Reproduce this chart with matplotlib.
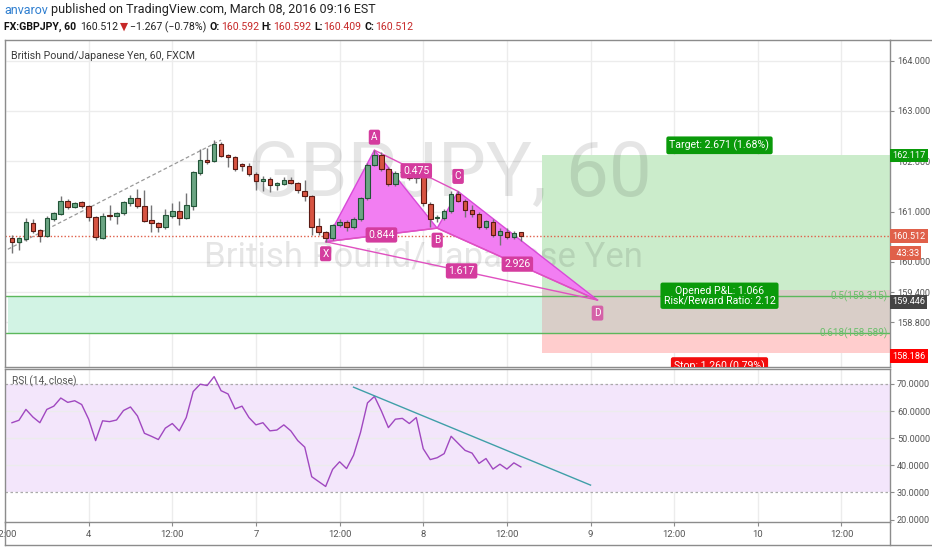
import matplotlib
matplotlib.use("Agg")
import matplotlib.pyplot as plt
import matplotlib.transforms as mtransforms
from matplotlib.patches import Polygon, Rectangle
from matplotlib.lines import Line2D
import numpy as np

plt.rcParams['font.family'] = ['Roboto', 'DejaVu Sans']

W, H = 932, 550

# hourly GBPJPY candles (bar index 1..74)
opens = [160.48, 160.39, 160.46, 160.78, 160.63, 160.52, 160.86, 160.96, 161.21, 161.10,
         161.18, 161.11, 160.89, 160.48, 160.93, 160.91, 160.97, 161.17, 161.26, 161.12,
         160.83, 160.77, 160.70, 160.92, 161.01, 160.88, 161.12, 161.77, 162.03, 162.01,
         162.34, 162.12, 162.08, 161.94, 161.91, 161.75, 161.61, 161.65, 161.52, 161.54,
         161.62, 161.56, 161.41, 161.30, 160.71, 160.59, 160.47, 160.73, 160.80, 160.69,
         160.85, 161.26, 161.93, 162.13, 161.84, 161.54, 161.78, 161.78, 161.67, 161.83,
         161.15, 160.87, 160.88, 161.01, 161.35, 161.21, 161.04, 160.96, 160.70, 160.80,
         160.53, 160.60, 160.49, 160.592]
highs = [160.54, 160.49, 160.87, 160.86, 160.66, 160.92, 161.00, 161.30, 161.24, 161.19,
         161.21, 161.13, 160.92, 160.98, 161.14, 161.00, 161.20, 161.33, 161.44, 161.42,
         161.13, 160.80, 161.06, 161.17, 161.20, 161.36, 161.80, 162.24, 162.26, 162.42,
         162.39, 162.15, 162.10, 161.97, 161.97, 161.78, 161.71, 161.68, 161.58, 161.69,
         161.69, 161.58, 161.63, 161.33, 160.87, 160.62, 160.76, 160.85, 160.83, 160.90,
         161.29, 161.96, 162.22, 162.18, 161.88, 161.80, 161.82, 161.82, 161.89, 161.86,
         161.18, 160.93, 161.06, 161.40, 161.40, 161.24, 161.13, 161.00, 160.84, 160.85,
         160.67, 160.67, 160.61, 160.592]
lows = [160.17, 160.24, 160.42, 160.58, 160.40, 160.49, 160.82, 160.94, 161.06, 161.08,
        161.08, 160.81, 160.44, 160.45, 160.83, 160.75, 160.93, 161.12, 161.08, 160.80,
        160.59, 160.60, 160.66, 160.88, 160.73, 160.85, 161.03, 161.72, 161.95, 161.98,
        162.08, 161.89, 161.80, 161.81, 161.71, 161.43, 161.40, 161.38, 161.43, 161.52,
        161.55, 161.36, 161.20, 160.54, 160.54, 160.40, 160.44, 160.70, 160.62, 160.66,
        160.82, 161.22, 161.90, 161.80, 161.50, 161.50, 161.75, 161.63, 161.56, 161.12,
        160.70, 160.80, 160.83, 160.98, 161.18, 160.90, 160.90, 160.66, 160.66, 160.50,
        160.34, 160.45, 160.45, 160.409]
closes = [160.39, 160.47, 160.79, 160.62, 160.52, 160.88, 160.97, 161.21, 161.10, 161.17,
          161.11, 160.89, 160.49, 160.91, 160.91, 160.97, 161.18, 161.27, 161.11, 160.81,
          160.77, 160.70, 160.93, 161.01, 160.88, 161.13, 161.78, 162.03, 161.99, 162.34,
          162.11, 162.08, 161.85, 161.91, 161.74, 161.61, 161.65, 161.52, 161.56, 161.62,
          161.56, 161.42, 161.30, 160.70, 160.60, 160.48, 160.73, 160.80, 160.69, 160.86,
          161.26, 161.93, 162.13, 161.84, 161.54, 161.76, 161.79, 161.67, 161.84, 161.16,
          160.86, 160.90, 161.02, 161.35, 161.21, 161.03, 160.96, 160.70, 160.81, 160.53,
          160.62, 160.49, 160.58, 160.512]
rsi = [55.7, 56.6, 60.6, 57.8, 55.7, 60.6, 61.8, 64.8, 63.2, 63.8,
       62.4, 57.0, 49.1, 56.4, 56.1, 56.7, 60.2, 61.5, 58.2, 51.8,
       50.7, 49.5, 53.7, 55.4, 52.7, 57.6, 67.2, 69.9, 69.4, 72.7,
       67.5, 66.3, 60.8, 61.8, 57.6, 54.9, 55.7, 52.7, 53.0, 54.9,
       52.7, 49.1, 46.7, 35.8, 34.0, 32.2, 38.5, 41.3, 38.8, 43.7,
       52.1, 63.0, 65.4, 60.0, 53.9, 57.0, 57.3, 55.4, 57.6, 46.1,
       42.1, 42.8, 44.3, 50.7, 48.1, 45.5, 44.5, 40.7, 42.5, 38.6,
       40.4, 38.6, 40.9, 39.4]
bars = np.arange(1, len(closes) + 1)

time_ticks = [0, 12, 24, 36, 48, 60, 72, 84, 96, 108, 120]
time_labels = ["12:00", "4", "12:00", "7", "12:00", "8", "12:00", "9", "12:00", "10", "12:00"]
price_ticks = [164.0, 163.0, 162.0, 161.0, 160.0, 159.4, 158.8]
rsi_ticks = [20, 30, 40, 50, 60, 70]

# XABCD pattern
pat_names = ["X", "A", "B", "C", "D"]
pat_bars = [46, 53, 62, 65, 85]
pat_prices = [160.40, 162.22, 160.67, 161.40, 159.24]
pat_ratios = ["0.844", "0.475", "1.617", "2.926"]

last_price = 160.512
entry, target, stop = 159.446, 162.117, 158.186
pos_bars = [77, 128]
fib_levels = [159.315, 158.589]
fib_labels = ["0.5(159.315)", "0.618(158.589)"]
trend_bars = [0.4, 31]
trend_prices = [160.25, 162.42]
rsi_trend_bars = [50, 84]
rsi_trend_vals = [68.8, 32.7]

up_c, up_e = '#6ba583', '#225437'
dn_c, dn_e = '#d75442', '#5b1a13'
grid_c = '#ececec'
axis_c = '#8c8c8c'
pink = '#d43c9e'

fig = plt.figure(figsize=(W / 100, H / 100), dpi=100)
ax = fig.add_axes([5 / W, 1 - 367 / H, 885 / W, 327 / H])
ax2 = fig.add_axes([5 / W, 1 - 522 / H, 885 / W, 153 / H], sharex=ax)

ax.set_xlim(0.36, 126.96)
ax.set_ylim(157.91, 164.41)
ax2.set_ylim(19.1, 75.5)

for a in (ax, ax2):
    for s in a.spines.values():
        s.set_color(axis_c)
        s.set_linewidth(1)
    a.yaxis.tick_right()
    a.set_xticks(time_ticks)
    for t in time_ticks:
        a.axvline(t, color=grid_c, lw=1, zorder=0)
    a.tick_params(axis='y', length=3, color=axis_c, labelcolor='#555555', labelsize=6.6, pad=2)

ax.tick_params(axis='x', length=0, labelbottom=False)
ax2.set_xticklabels(time_labels)
ax2.tick_params(axis='x', length=3, color=axis_c, labelcolor='#555555', labelsize=6.8, pad=3)

ax.set_yticks(price_ticks)
ax.set_yticklabels(["%.3f" % p for p in price_ticks])
for p in price_ticks:
    ax.axhline(p, color=grid_c, lw=1, zorder=0)

# watermark
ax.text(0.503, 0.585, "GBPJPY, 60", transform=ax.transAxes, ha='center', va='center',
        fontsize=55, color='black', alpha=0.1, zorder=1.5)
ax.text(0.473, 0.335, "British Pound/Japanese Yen", transform=ax.transAxes, ha='center',
        va='center', fontsize=25, color='black', alpha=0.1, zorder=1.5)
ax.text(6 / 885, 1 - 16 / 327, "British Pound/Japanese Yen, 60, FXCM", transform=ax.transAxes,
        ha='left', va='center', fontsize=7.7, color='#3a3a3a')

# fib zone and position box
ax.fill_between([0.36, pos_bars[0]], fib_levels[1], fib_levels[0], color='#d2f3e4', lw=0, zorder=1)
ax.add_patch(Rectangle((pos_bars[0], entry), pos_bars[1] - pos_bars[0], target - entry,
                       fc='#cbeccb', ec='none', zorder=1))
ax.add_patch(Rectangle((pos_bars[0], stop), pos_bars[1] - pos_bars[0], entry - stop,
                       fc='#ffcdcd', ec='none', zorder=1))
ax.add_patch(Rectangle((pos_bars[0], fib_levels[1]), pos_bars[1] - pos_bars[0], entry - fib_levels[1],
                       fc='#d9cec8', ec='none', zorder=1))
for lv, lb in zip(fib_levels, fib_labels):
    ax.axhline(lv, color='#5cb85c', lw=1, zorder=2)
    ax.text(126.6, lv, lb, ha='right', va='center', fontsize=7.2, color='#6cbf6c', zorder=2)

# dashed trend line and last price line
ax.plot(trend_bars, trend_prices, color='#999999', lw=0.9, ls=(0, (3, 2)), zorder=2)
ax.axhline(last_price, color='#e0604a', lw=1, ls=(0, (1, 1.5)), zorder=2)

# harmonic pattern fill
px = dict(zip(pat_names, zip(pat_bars, pat_prices)))
for tri in (("X", "A", "B"), ("B", "C", "D")):
    ax.add_patch(Polygon([px[n] for n in tri], closed=True, fc='#f27ef2', ec='#d84ad8',
                         lw=1, zorder=2.5))
for a_, b_ in (("X", "D"), ("B", "D"), ("A", "C"), ("X", "B")):
    ax.plot([px[a_][0], px[b_][0]], [px[a_][1], px[b_][1]], color='#e050c0', lw=1, zorder=2.6)

# candles
for b, o, h, l, c in zip(bars, opens, highs, lows, closes):
    up = c >= o
    ax.vlines(b, l, h, color='#737375', lw=1, zorder=3)
    ax.bar(b, max(abs(c - o), 0.012), bottom=min(o, c), width=0.66,
           color=up_c if up else dn_c, edgecolor=up_e if up else dn_e, lw=0.8, zorder=4)

# pattern labels
offs = {"X": -12, "A": 13, "B": -12, "C": 15, "D": -13}
for n in pat_names:
    ax.annotate(n, xy=px[n], xytext=(0, offs[n]), textcoords='offset pixels', ha='center',
                va='center', fontsize=7.2, color='white', zorder=6,
                bbox=dict(boxstyle='round,pad=0.25,rounding_size=0.2', fc=pink, ec='none',
                          alpha=0.75 if n == "D" else 1))
for (a_, b_), r in zip((("X", "B"), ("A", "C"), ("X", "D"), ("B", "D")), pat_ratios):
    mx = (px[a_][0] + px[b_][0]) / 2
    my = (px[a_][1] + px[b_][1]) / 2
    ax.text(mx, my, r, ha='center', va='center', fontsize=7.6, color='white', zorder=6,
            bbox=dict(boxstyle='round,pad=0.25,rounding_size=0.2', fc=pink, ec='none'))

# position labels
pcx = (pos_bars[0] + pos_bars[1]) / 2
green = '#0a9a0a'
ax.annotate("Target: 2.671 (1.68%)", xy=(pcx, target), xytext=(0, 10), textcoords='offset pixels',
            ha='center', va='center', fontsize=7.6, color='white', zorder=7,
            bbox=dict(boxstyle='round,pad=0.3,rounding_size=0.2', fc=green, ec='none'))
ax.annotate("Opened P&L: 1.066\nRisk/Reward Ratio: 2.12", xy=(pcx, entry), xytext=(0, -6),
            textcoords='offset pixels', ha='center', va='center', fontsize=7.6, color='white',
            linespacing=1.0, zorder=7,
            bbox=dict(boxstyle='round,pad=0.3,rounding_size=0.2', fc=green, ec='none'))
st = ax.annotate("Stop: 1.260 (0.79%)", xy=(pcx, stop), xytext=(0, -13), textcoords='offset pixels',
                 ha='center', va='center', fontsize=7.6, color='white', zorder=7,
                 bbox=dict(boxstyle='round,pad=0.3,rounding_size=0.2', fc='#f20d0d', ec='none'))
st.set_clip_on(True)
st.set_clip_path(ax.patch)

# price scale tags
trans = mtransforms.blended_transform_factory(ax.transAxes, ax.transData)
def price_tag(price, text, fc, dy=0):
    ax.annotate(text, xy=(1.0, price), xycoords=trans, xytext=(2, dy), textcoords='offset pixels',
                ha='left', va='center', color='white', fontsize=6.6, annotation_clip=False, zorder=10,
                bbox=dict(boxstyle='square,pad=0.25', fc=fc, ec='none'))

price_tag(target, "162.117", '#0a9a0a')
price_tag(last_price, "160.512", '#e0604a')
price_tag(last_price, "  43:33", '#e0604a', dy=-17)
price_tag(entry, "159.446", '#444444', dy=-12)
price_tag(stop, "158.186", '#ff0000', dy=-3)

# RSI pane
ax2.axhspan(30, 70, color='#f3e6fb', lw=0, zorder=0.5)
for v in (40, 50, 60):
    ax2.axhline(v, color=grid_c, lw=1, zorder=0.8)
for v in (30, 70):
    ax2.axhline(v, color='#aaaaaa', lw=0.9, ls=(0, (2, 2)), zorder=1)
ax2.plot(bars, rsi, color='#a048c0', lw=1, zorder=3)
ax2.plot(rsi_trend_bars, rsi_trend_vals, color='#3f9fa8', lw=1, zorder=3)
ax2.set_yticks(rsi_ticks)
ax2.set_yticklabels(["%.4f" % v for v in rsi_ticks])
ax2.text(7 / 885, 1 - 12 / 153, "RSI (14, close)", transform=ax2.transAxes, ha='left',
         va='center', fontsize=7.3, color='#555555')

# outer frame lines
for (x0, y0, x1, y1) in ((5, 522, 5, 545), (5, 545, W, 545), (890, 522, 890, 545), (890, 40, W, 40)):
    fig.add_artist(Line2D([x0 / W, x1 / W], [1 - y0 / H, 1 - y1 / H], color=axis_c, lw=1))

# header
def header_line(pieces, x, y, size):
    r = fig.canvas.get_renderer()
    for txt, col, wt, gap in pieces:
        t = fig.text(x / W, 1 - y / H, txt, color=col, fontsize=size, fontweight=wt,
                     ha='left', va='center')
        x += t.get_window_extent(renderer=r).width + gap

header_line([("anvarov", '#2f7fd0', 'normal', 3),
             ("published on TradingView.com, March 08, 2016 09:16 EST", '#222222', 'normal', 0)],
            4, 10, 9.0)
red = '#c62828'
header_line([("FX:GBPJPY, 60", '#111111', 'bold', 4), ("160.512", '#222222', 'normal', 2),
             ("\u25BC", red, 'normal', 2), ("\u22121.267 (\u22120.78%)", '#222222', 'normal', 3),
             ("O:", '#111111', 'bold', 1), ("160.592", red, 'normal', 3),
             ("H:", '#111111', 'bold', 1), ("160.592", red, 'normal', 3),
             ("L:", '#111111', 'bold', 1), ("160.409", red, 'normal', 3),
             ("C:", '#111111', 'bold', 1), ("160.512", red, 'normal', 0)], 4, 27, 7.6)

fig.savefig("out.png", dpi=100)
